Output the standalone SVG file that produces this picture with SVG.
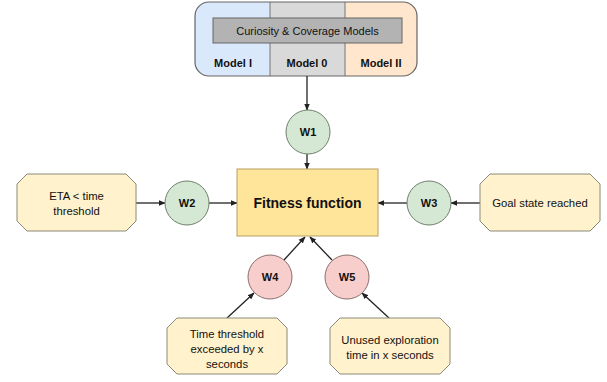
<svg xmlns="http://www.w3.org/2000/svg" width="607" height="382" viewBox="0 0 607 382">
<style>
text{font-family:"Liberation Sans",Arial,sans-serif;fill:#111;text-anchor:middle;dominant-baseline:central}
.b{font-weight:bold}
.s{font-size:11px}
.m{font-size:11.3px}
.oct{fill:#fff2cc;stroke:#8a8a7a;stroke-width:1}
.g{fill:#d5e8d4;stroke:#6f7f6d;stroke-width:1}
.r{fill:#f8cecc;stroke:#8a6e6d;stroke-width:1}
.e{stroke:#222;stroke-width:1.3;fill:none;marker-end:url(#a)}
</style>
<defs>
<marker id="a" viewBox="0 0 10 10" refX="9" refY="5" markerWidth="7" markerHeight="7" orient="auto" markerUnits="userSpaceOnUse"><path d="M0,1 L10,5 L0,9 Z" fill="#222"/></marker>
<clipPath id="c"><rect x="195" y="2" width="222" height="74" rx="14"/></clipPath>
</defs>
<g id="models">
<g clip-path="url(#c)">
<rect x="195" y="2" width="75" height="74" fill="#dae8fc"/>
<rect x="270" y="2" width="75" height="74" fill="#d9d9d9"/>
<rect x="345" y="2" width="72" height="74" fill="#ffe6cc"/>
<line x1="270" y1="2" x2="270" y2="76" stroke="#777"/>
<line x1="345" y1="2" x2="345" y2="76" stroke="#777"/>
</g>
<rect x="195" y="2" width="222" height="74" rx="14" fill="none" stroke="#666" stroke-width="1.2"/>
<rect x="213" y="18" width="189" height="25" fill="#b3b3b3" stroke="#666"/>
<text x="307.5" y="31" class="s">Curiosity &amp; Coverage Models</text>
<text x="233" y="63" class="b s">Model I</text>
<text x="307" y="63" class="b s">Model 0</text>
<text x="381" y="63" class="b s">Model II</text>
</g>
<g id="connectors">
<line x1="307" y1="76" x2="307" y2="110" class="e"/>
<line x1="307" y1="154" x2="307" y2="169" class="e"/>
<line x1="136" y1="203" x2="165" y2="203" class="e"/>
<line x1="209" y1="203" x2="237" y2="203" class="e"/>
<line x1="480" y1="203" x2="451" y2="203" class="e"/>
<line x1="407" y1="203" x2="378" y2="203" class="e"/>
<line x1="227" y1="318" x2="254" y2="293" class="e"/>
<line x1="284" y1="260" x2="305" y2="237" class="e"/>
<line x1="389" y1="318" x2="362" y2="293" class="e"/>
<line x1="332" y1="260" x2="310" y2="237" class="e"/>
</g>
<g id="w1"><circle cx="308" cy="132" r="22" class="g"/><text x="308" y="132" class="b s">W1</text></g>
<g id="fitness"><rect x="237" y="169" width="141" height="67" fill="#ffe599" stroke="#b8a060"/><text x="307.5" y="203" class="b" font-size="14">Fitness function</text></g>
<g id="eta"><polygon points="27,174 126,174 136,184 136,221 126,231 27,231 17,221 17,184" class="oct"/><text x="76.5" y="196" class="m">ETA &lt; time</text><text x="76.5" y="211" class="m">threshold</text></g>
<g id="w2"><circle cx="187" cy="203" r="22" class="g"/><text x="187" y="203" class="b s">W2</text></g>
<g id="w3"><circle cx="429" cy="203" r="22" class="g"/><text x="429" y="203" class="b s">W3</text></g>
<g id="goal"><polygon points="490,174 590,174 600,184 600,221 590,231 490,231 480,221 480,184" class="oct"/><text x="540" y="203" class="m">Goal state reached</text></g>
<g id="w4"><circle cx="270" cy="277" r="22" class="r"/><text x="270" y="277" class="b s">W4</text></g>
<g id="w5"><circle cx="347" cy="277" r="22" class="r"/><text x="347" y="277" class="b s">W5</text></g>
<g id="exceeded"><polygon points="177,318 277,318 287,328 287,364 277,374 177,374 167,364 167,328" class="oct"/><text x="227" y="334" class="m">Time threshold</text><text x="227" y="349" class="m">exceeded by x</text><text x="227" y="364" class="m">seconds</text></g>
<g id="unused"><polygon points="340,318 440,318 450,328 450,364 440,374 340,374 330,364 330,328" class="oct"/><text x="390" y="340" class="m">Unused exploration</text><text x="390" y="355" class="m">time in x seconds</text></g>
</svg>
